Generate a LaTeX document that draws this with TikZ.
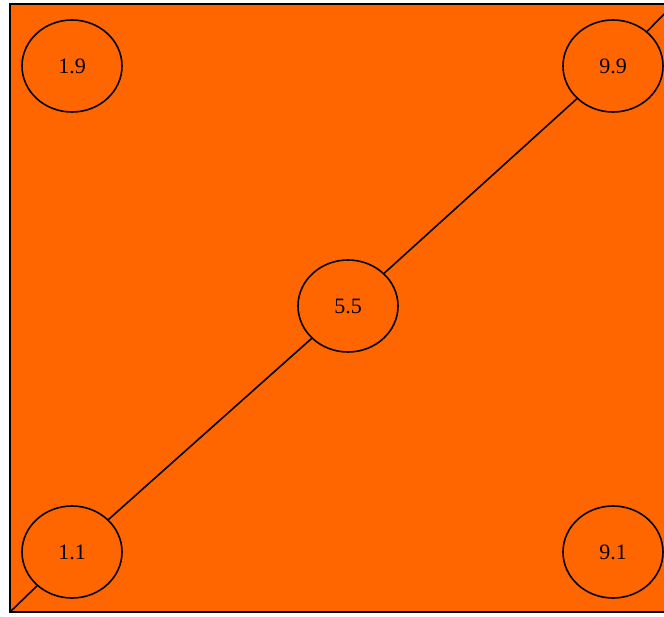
\documentclass[tikz,border=0pt]{standalone}
\usepackage{fontspec}
\setmainfont{Liberation Serif}
\usetikzlibrary{shapes.geometric}
\definecolor{bgorange}{HTML}{FF6600}
\begin{document}
\begin{tikzpicture}[x=1pt,y=-1pt,
  val/.style={draw=black, line width=1.6pt, fill=bgorange, ellipse, minimum width=100pt, minimum height=92pt, inner sep=0pt, font=\fontsize{22}{24}\selectfont},
  link/.style={draw=black, line width=1.6pt}]
\useasboundingbox (0,0) rectangle (664,616);
\clip (0,0) rectangle (664,616);
% panel
\draw[fill=bgorange, line width=1.6pt] (10,4) rectangle (676,612);
% end points of the diagonal
\coordinate (sw) at (10,612);
\coordinate (ne) at (676,2);
% value nodes
\node[val] (n19) at (72,66) {1.9};
\node[val] (n99) at (613,66) {9.9};
\node[val] (n55) at (348,306) {5.5};
\node[val] (n11) at (72,552) {1.1};
\node[val] (n91) at (613,552) {9.1};
% diagonal connectors
\draw[link] (sw) -- (n11);
\draw[link] (n11) -- (n55);
\draw[link] (n55) -- (n99);
\draw[link] (n99) -- (ne);
\end{tikzpicture}
\end{document}
